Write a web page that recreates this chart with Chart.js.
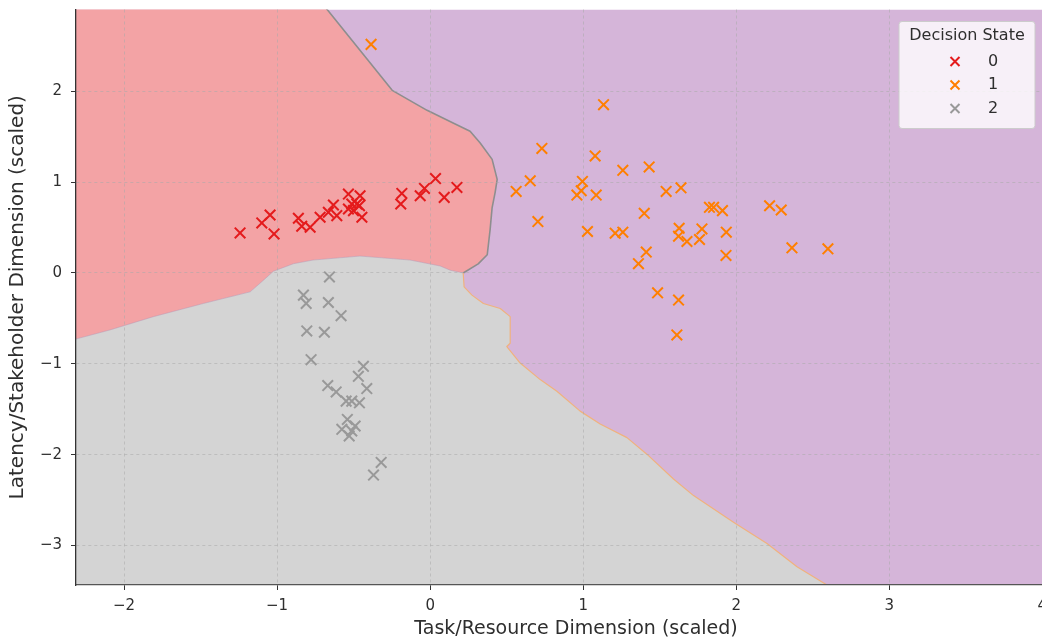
<!DOCTYPE html>
<html>
<head>
<meta charset="utf-8">
<script src="https://cdn.jsdelivr.net/npm/chart.js@4.4.1/dist/chart.umd.min.js"></script>
<style>
  html, body { margin: 0; padding: 0; background: #fff; overflow: hidden; width: 1042px; height: 641px; }
  #wrap { position: relative; width: 1090px; height: 641px; }
</style>
</head>
<body>
<div id="wrap"><canvas id="decisionChart"></canvas></div>
<script>
// axis ranges (right part of the plot is cut off by the window)
const xRange = [-2.314, 4.22];
const yRange = [-3.435, 2.9];

// decision state 0 samples [task, latency]
const state0 = [
  [-1.242, 0.441], [-1.100, 0.551], [-1.046, 0.638], [-1.020, 0.430], [-0.861, 0.602],
  [-0.839, 0.514], [-0.784, 0.503], [-0.719, 0.613], [-0.665, 0.667], [-0.632, 0.748],
  [-0.610, 0.631], [-0.534, 0.868], [-0.458, 0.850], [-0.512, 0.759], [-0.479, 0.759],
  [-0.534, 0.704], [-0.501, 0.686], [-0.446, 0.613], [-0.462, 0.741], [-0.185, 0.875],
  [-0.192, 0.759], [-0.065, 0.850], [-0.037, 0.930], [0.035, 1.039], [0.092, 0.832],
  [0.175, 0.941]
];

// decision state 1 samples
const state1 = [
  [1.133, 1.852], [0.730, 1.371], [1.078, 1.288], [1.259, 1.130], [1.431, 1.167],
  [0.654, 1.014], [0.562, 0.897], [0.995, 1.007], [0.987, 0.905], [0.959, 0.857],
  [1.085, 0.857], [1.542, 0.897], [1.639, 0.937], [0.704, 0.566], [1.399, 0.656],
  [1.028, 0.456], [1.209, 0.438], [1.259, 0.449], [1.825, 0.722], [1.852, 0.722],
  [1.910, 0.686], [2.218, 0.740], [2.294, 0.693], [1.627, 0.492], [1.623, 0.405],
  [1.678, 0.346], [1.760, 0.368], [1.776, 0.485], [1.935, 0.449], [1.412, 0.230],
  [1.361, 0.102], [1.933, 0.193], [2.364, 0.277], [2.599, 0.266], [1.486, -0.219],
  [1.623, -0.299], [1.612, -0.682], [-0.386, 2.516]
];

// decision state 2 samples
const state2 = [
  [-0.658, -0.044], [-0.828, -0.244], [-0.810, -0.335], [-0.665, -0.325], [-0.582, -0.470],
  [-0.806, -0.638], [-0.691, -0.653], [-0.778, -0.955], [-0.436, -1.028], [-0.469, -1.138],
  [-0.414, -1.273], [-0.669, -1.240], [-0.614, -1.310], [-0.549, -1.411], [-0.512, -1.411],
  [-0.462, -1.430], [-0.541, -1.612], [-0.490, -1.685], [-0.577, -1.721], [-0.512, -1.740],
  [-0.529, -1.794], [-0.320, -2.086], [-0.370, -2.225]
];

// classifier boundaries (data units)
const redPurpleEdge = [
  [-0.720, 3.0], [-0.673, 2.90], [-0.248, 2.01], [-0.020, 1.79], [0.150, 1.65], [0.261, 1.56],
  [0.327, 1.43], [0.405, 1.25], [0.438, 1.03], [0.425, 0.89], [0.405, 0.72],
  [0.392, 0.48], [0.373, 0.20], [0.314, 0.10], [0.216, 0.0]
];
const redGrayEdge = [
  [-2.40, -0.76], [-2.309, -0.725], [-2.092, -0.627], [-1.808, -0.481], [-1.482, -0.336],
  [-1.176, -0.208], [-1.089, -0.080], [-1.024, 0.019], [-0.893, 0.102], [-0.765, 0.142],
  [-0.458, 0.186], [-0.131, 0.142], [0.065, 0.077], [0.131, 0.030], [0.216, 0.0]
];
const grayPurpleEdge = [
  [0.216, 0.0], [0.222, -0.153], [0.273, -0.244], [0.348, -0.336], [0.458, -0.391],
  [0.523, -0.481], [0.523, -0.774], [0.501, -0.810], [0.588, -0.992], [0.719, -1.174],
  [0.828, -1.302], [0.980, -1.521], [1.111, -1.663], [1.286, -1.813], [1.416, -1.995],
  [1.590, -2.268], [1.721, -2.451], [1.982, -2.743], [2.201, -2.979], [2.397, -3.235],
  [2.593, -3.435], [2.657, -3.5]
];

const stateLabels = ['0', '1', '2'];
const stateColors = ['#e41a1c', '#ff7f00', '#999999'];
const regionColors = { red: '#f3a3a5', purple: '#d5b5d9', gray: '#d4d4d4' };

const FONT = 'DejaVu Sans';
const TEXT = '#2e2e2e';

const regionPlugin = {
    id: 'regions',
    beforeDraw(chart) {
        const { ctx, chartArea: a, scales: { x, y } } = chart;
        const toPx = p => [x.getPixelForValue(p[0]), y.getPixelForValue(p[1])];
        const path = pts => {
            ctx.beginPath();
            pts.forEach((p, i) => {
                const [px, py] = toPx(p);
                if (i === 0) ctx.moveTo(px, py); else ctx.lineTo(px, py);
            });
        };

        ctx.save();
        ctx.beginPath();
        ctx.rect(a.left, a.top, a.width, a.height);
        ctx.clip();

        ctx.fillStyle = regionColors.purple;
        ctx.fillRect(a.left, a.top, a.width, a.height);

        const redPoly = [[xRange[0] - 1, yRange[1] + 1], [redPurpleEdge[0][0], yRange[1] + 1]]
            .concat(redPurpleEdge, redGrayEdge.slice().reverse(), [[xRange[0] - 1, redGrayEdge[0][1]]]);
        path(redPoly);
        ctx.closePath();
        ctx.fillStyle = regionColors.red;
        ctx.fill();

        const grayPoly = [[xRange[0] - 1, redGrayEdge[0][1]]]
            .concat(redGrayEdge, grayPurpleEdge, [[grayPurpleEdge[grayPurpleEdge.length - 1][0], yRange[0] - 1], [xRange[0] - 1, yRange[0] - 1]]);
        path(grayPoly);
        ctx.closePath();
        ctx.fillStyle = regionColors.gray;
        ctx.fill();

        // contour edges
        ctx.lineJoin = 'round';
        path(redPurpleEdge);
        ctx.strokeStyle = '#8e8e8e';
        ctx.lineWidth = 1.6;
        ctx.stroke();

        path(grayPurpleEdge);
        ctx.strokeStyle = '#f0b27e';
        ctx.lineWidth = 1.2;
        ctx.stroke();

        path(redGrayEdge);
        ctx.strokeStyle = 'rgba(190,150,170,0.6)';
        ctx.lineWidth = 0.8;
        ctx.stroke();
        ctx.restore();
    }
};

const legendPlugin = {
    id: 'stateLegend',
    afterDraw(chart) {
        const { ctx, chartArea: a } = chart;
        const w = 136, h = 107;
        const left = 899, top = a.top + 12;
        ctx.save();
        ctx.beginPath();
        ctx.roundRect(left, top, w, h, 3);
        ctx.fillStyle = 'rgba(255,255,255,0.8)';
        ctx.fill();
        ctx.strokeStyle = '#cccccc';
        ctx.lineWidth = 1;
        ctx.stroke();

        ctx.fillStyle = TEXT;
        ctx.font = '16px "' + FONT + '"';
        ctx.textAlign = 'center';
        ctx.textBaseline = 'middle';
        ctx.fillText('Decision State', left + w / 2, top + 14);

        chart.data.datasets.forEach((ds, i) => {
            const cy = top + 40 + i * 23.5;
            const cx = left + 56;
            const r = 4.5;
            ctx.beginPath();
            ctx.moveTo(cx - r, cy - r); ctx.lineTo(cx + r, cy + r);
            ctx.moveTo(cx - r, cy + r); ctx.lineTo(cx + r, cy - r);
            ctx.strokeStyle = ds.borderColor;
            ctx.lineWidth = 2;
            ctx.stroke();
            ctx.fillStyle = TEXT;
            ctx.textAlign = 'left';
            ctx.fillText(ds.label, left + 89, cy);
        });
        ctx.restore();
    }
};

const toPoints = arr => arr.map(p => ({ x: p[0], y: p[1] }));
const fmt = v => (v < 0 ? '\u2212' + Math.abs(v) : String(v));

new Chart(document.getElementById('decisionChart'), {
    type: 'scatter',
    data: {
        datasets: [state0, state1, state2].map((s, i) => ({
            label: stateLabels[i],
            data: toPoints(s),
            pointStyle: 'crossRot',
            pointRadius: 7.5,
            pointBorderWidth: 2,
            borderColor: stateColors[i],
            backgroundColor: stateColors[i]
        }))
    },
    options: {
        responsive: true,
        maintainAspectRatio: false,
        animation: false,
        layout: { padding: { top: 6, right: 14, left: 0, bottom: 0 } },
        plugins: {
            legend: { display: false },
            tooltip: { enabled: false }
        },
        scales: {
            x: {
                type: 'linear',
                min: xRange[0],
                max: xRange[1],
                afterFit: scale => { scale.height = 56; },
                ticks: {
                    stepSize: 1,
                    includeBounds: false,
                    color: TEXT,
                    padding: 7,
                    font: { family: FONT, size: 15 },
                    callback: fmt
                },
                grid: {
                    color: 'rgba(170,170,170,0.55)',
                    tickColor: '#333',
                    tickLength: 5,
                    tickBorderDash: []
                },
                border: { color: '#555', width: 1.3, dash: [3, 3] },
                title: {
                    display: true,
                    text: 'Task/Resource Dimension (scaled)',
                    color: TEXT,
                    font: { family: FONT, size: 19 },
                    padding: { top: 0, bottom: 1 }
                }
            },
            y: {
                type: 'linear',
                min: yRange[0],
                max: yRange[1],
                afterFit: scale => {
                    scale.width = 76;
                    scale.paddingTop = 0;
                    scale.paddingBottom = 0;
                },
                ticks: {
                    stepSize: 1,
                    includeBounds: false,
                    color: TEXT,
                    padding: 9,
                    font: { family: FONT, size: 15 },
                    callback: fmt
                },
                grid: {
                    color: 'rgba(170,170,170,0.55)',
                    tickColor: '#333',
                    tickLength: 5,
                    tickBorderDash: []
                },
                border: { color: '#333', width: 1.3, dash: [3, 3] },
                title: {
                    display: true,
                    text: 'Latency/Stakeholder Dimension (scaled)',
                    color: TEXT,
                    font: { family: FONT, size: 20 },
                    padding: { top: 6, bottom: 0 }
                }
            }
        }
    },
    plugins: [regionPlugin, legendPlugin]
});
</script>
</body>
</html>
